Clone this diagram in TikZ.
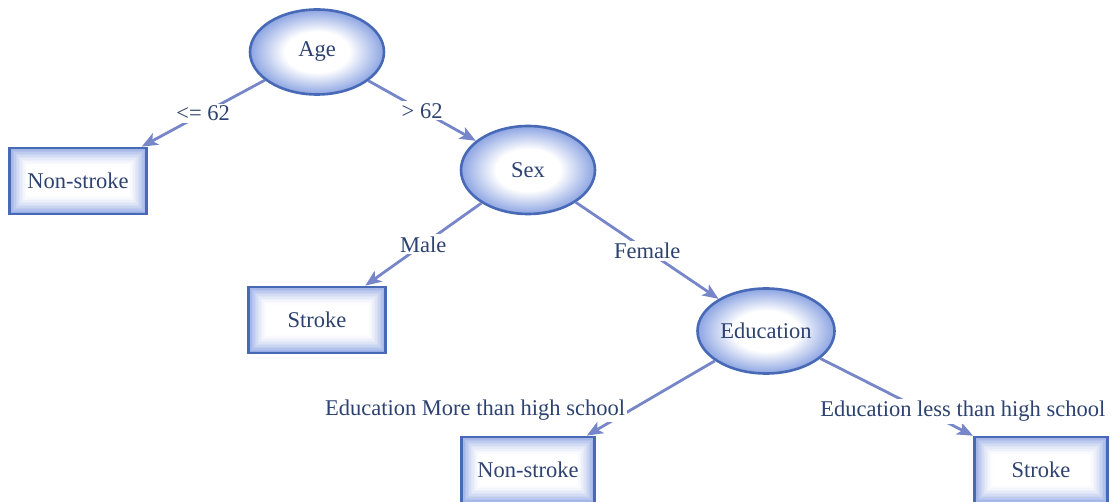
\documentclass[tikz,border=0pt]{standalone}
\usepackage{fontspec}
\setmainfont{LiberationSerif}[Extension=.ttf, UprightFont=*-Regular, BoldFont=*-Bold, ItalicFont=*-Italic, BoldItalicFont=*-BoldItalic]
\usetikzlibrary{arrows.meta,shapes.geometric}

\definecolor{inkblue}{RGB}{45,66,112}
\definecolor{rimblue}{RGB}{72,106,182}
\definecolor{glowblue}{RGB}{140,164,226}
\definecolor{linkblue}{RGB}{118,134,200}

% white centre fading to light blue at the rim of each decision oval
\pgfdeclareradialshading{ovalglow}{\pgfpoint{0bp}{0bp}}{%
  color(0bp)=(white); color(12bp)=(white); color(25bp)=(glowblue); color(50bp)=(glowblue)}

\tikzset{
  treefont/.style={font=\rmfamily\fontsize{22.5}{27}\selectfont, text=inkblue},
  oval/.style={ellipse, treefont, draw=rimblue, line width=2.6pt,
    shading=ovalglow, inner sep=0pt, minimum width=134pt, minimum height=85pt},
  % leaf boxes: blue inner glow made of nested rectangles
  leaf/.style={rectangle, treefont, draw=rimblue, line width=2.8pt,
    inner sep=0pt, minimum width=137pt, minimum height=66pt,
    path picture={
      \foreach \d/\m in {0/90,1.5/78,3/67,4.5/57,6/47,7.5/38,9/30,10.5/23,12/16,13.5/10,15/5,16.5/2,18/0}{
        \fill[glowblue!\m!white]
          ([xshift=\d pt,yshift=\d pt]path picture bounding box.south west) rectangle
          ([xshift=-\d pt,yshift=-\d pt]path picture bounding box.north east);
      }}},
  link/.style={draw=linkblue, line width=2.8pt,
    -{Stealth[length=16pt,width=13pt,inset=4pt]}},
  tag/.style={treefont, fill=white, inner sep=2pt}
}

\begin{document}
\begin{tikzpicture}[x=1pt,y=-1pt]
  \useasboundingbox (0,0) rectangle (1114,502);

  % decision nodes
  \node[oval] (age) at (317,52) {Age};
  \node[oval, minimum height=88pt] (sex) at (528,170) {Sex};
  \node[oval, minimum width=137pt] (edu) at (766,331) {Education};

  % outcomes
  \node[leaf] (ns1) at (78,181) {Non-stroke};
  \node[leaf] (st1) at (317,320) {Stroke};
  \node[leaf, minimum width=133pt] (ns2) at (528,470) {Non-stroke};
  \node[leaf, minimum width=133pt] (st2) at (1041,470) {Stroke};

  % branches
  \draw[link] (age) -- node[tag] {<= 62} (ns1);
  \draw[link] (age) -- node[tag] {> 62} (sex);
  \draw[link] (sex) -- node[tag] {Male} (st1);
  \draw[link] (sex) -- node[tag] {Female} (edu);
  \draw[link] (edu) -- node[tag, pos=0.66, anchor=east, xshift=-2pt]
    {Education More than high school} (ns2);
  \draw[link] (edu) -- node[tag, pos=0.684, xshift=38pt]
    {Education less than high school} (st2);
\end{tikzpicture}
\end{document}
